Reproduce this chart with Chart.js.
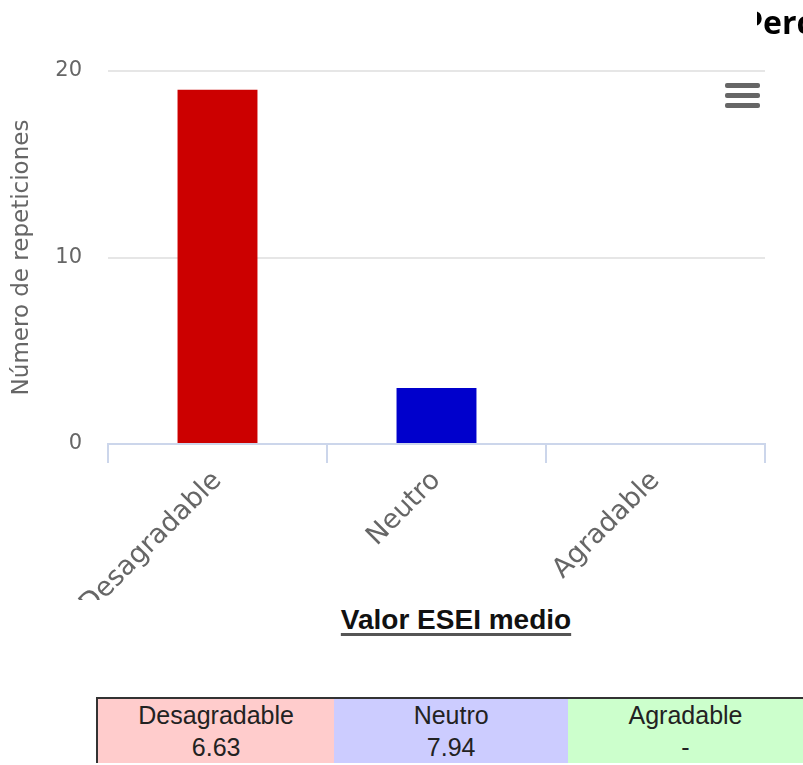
<!DOCTYPE html>
<html>
<head>
<meta charset="utf-8">
<script src="https://cdn.jsdelivr.net/npm/chart.js@4.4.0/dist/chart.umd.min.js"></script>
<style>
  html, body { margin: 0; padding: 0; background: #fff; overflow: hidden; }
  body { width: 803px; height: 765px; position: relative; }
  #wrap { position: absolute; left: 0; top: 0; width: 803px; height: 600px; }
  #titulo { position: absolute; left: 757px; top: 0px; width: 46px; overflow: hidden; white-space: nowrap;
            font: bold 32px "Open Sans", sans-serif; color: #000; line-height: 44px; }
  #titulo span { margin-left: -14px; display: inline-block; }
  #menu { position: absolute; left: 725px; top: 83px; width: 35px; }
  #menu div { height: 5px; background: #666; border-radius: 2px; margin-bottom: 5px; }
  #valor { position: absolute; left: 0; width: 912px; top: 604px; text-align: center;
           font: bold 28px "Liberation Sans", Arial, sans-serif; color: #111;
           text-decoration: underline; text-decoration-color: #555; text-decoration-thickness: 3px; text-underline-offset: 4px; }
  table { position: absolute; left: 96px; top: 697px; border-collapse: collapse;
          font: 25px "Liberation Sans", Arial, sans-serif; color: #222; }
  td { width: 239px; padding: 0; text-align: center; line-height: 32px; border-top: 2px solid #333; }
  td:first-child { border-left: 2px solid #333; }
</style>
</head>
<body>
<div id="wrap"><canvas id="grafico"></canvas></div>
<div id="titulo"><span>Percepción</span></div>
<div id="menu"><div></div><div></div><div></div></div>
<div id="valor">Valor ESEI medio</div>
<table id="tabla"></table>
<script>
var categorias = ["Desagradable", "Neutro", "Agradable"];
var repeticiones = [19, 3, 0];
var colores = ["#cc0000", "#0000cc", "#00cc00"];
var mediasESEI = ["6.63", "7.94", "-"];
var fondosTabla = ["#ffcccc", "#ccccff", "#ccffcc"];

// tabla de valores medios
var fila1 = "<tr>", fila2 = "<tr>";
for (var i in categorias) {
    fila1 += '<td style="background:' + fondosTabla[i] + '">' + categorias[i] + '</td>';
    fila2 += '<td style="background:' + fondosTabla[i] + ';border-top:none">' + mediasESEI[i] + '</td>';
}
document.getElementById("tabla").innerHTML = fila1 + "</tr>" + fila2 + "</tr>";

var canvas = document.getElementById("grafico");
canvas.width = 803;
canvas.height = 600;

var chartdata = {
    labels: categorias,
    datasets: [{
        data: repeticiones,
        backgroundColor: colores,
        borderWidth: 0,
        barPercentage: 0.365,
        categoryPercentage: 1
    }]
};

new Chart(canvas, {
    type: 'bar',
    data: chartdata,
    options: {
        responsive: false,
        animation: false,
        layout: { padding: { top: 71, right: 38, left: 0, bottom: 0 } },
        plugins: { legend: { display: false }, tooltip: { enabled: false } },
        scales: {
            x: {
                grid: { offset: true, drawOnChartArea: false, color: "#ccd6eb", lineWidth: 2, tickLength: 19 },
                border: { color: "#ccd6eb", width: 2 },
                ticks: { color: "#666", font: { family: "DejaVu Sans", size: 27 }, maxRotation: 45, minRotation: 45, padding: 2 },
                afterFit: function(scale) { scale.height = 156; }
            },
            y: {
                min: 0, max: 20,
                ticks: { stepSize: 10, color: "#666", font: { family: "DejaVu Sans", size: 21 }, padding: 26 },
                grid: { color: "#e6e6e6", lineWidth: 2, drawTicks: false },
                border: { display: false },
                title: { display: true, text: "Número de repeticiones", color: "#666",
                         font: { family: "DejaVu Sans", size: 23 }, padding: { top: 8, bottom: 0 } },
                afterFit: function(scale) { scale.width = 108; }
            }
        }
    }
});
</script>
</body>
</html>
